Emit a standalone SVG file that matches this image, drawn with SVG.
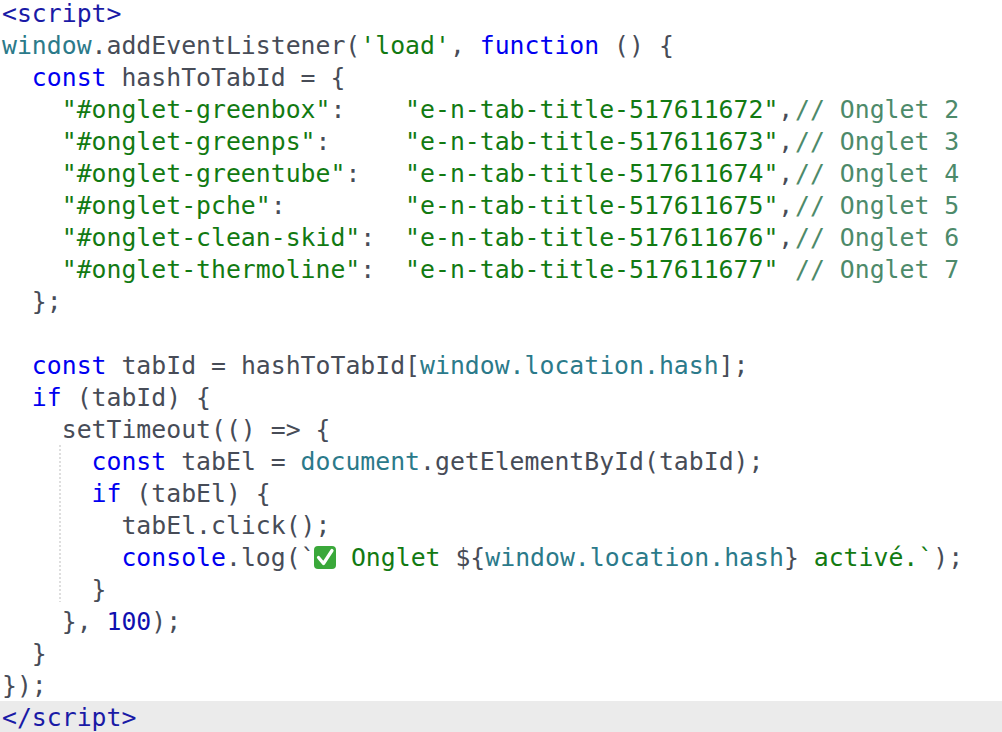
<svg xmlns="http://www.w3.org/2000/svg" width="1002" height="732" viewBox="0 0 1002 732">
<style>
text{font-family:"DejaVu Sans Mono","Liberation Mono",monospace;font-size:24.8px;fill:#474c57;white-space:pre}
.t{fill:#1a1aa6}.k{fill:#0000f0}.s{fill:#127a12}.c{fill:#4d8a6a}.v{fill:#2b7a8a}.n{fill:#1010b0}
</style>
<rect width="1002" height="732" fill="#fff"/>
<rect x="0" y="701" width="1002" height="31" fill="#ebebeb"/>
<line x1="60" y1="445" x2="60" y2="602" stroke="#c8c8c8" stroke-width="1.2" stroke-dasharray="2,2"/>
<g id="code" xml:space="preserve">
<text x="2" y="22"><tspan class="t">&lt;script&gt;</tspan></text>
<text x="2" y="54"><tspan class="v">window</tspan>.addEventListener(<tspan class="s">'load'</tspan>, <tspan class="k">function</tspan> () {</text>
<text x="2" y="86">  <tspan class="k">const</tspan> hashToTabId = {</text>
<text x="2" y="118">    <tspan class="s">"#onglet-greenbox"</tspan>:    <tspan class="s">"e-n-tab-title-517611672"</tspan>,<tspan class="c" x="795">// Onglet 2</tspan></text>
<text x="2" y="150">    <tspan class="s">"#onglet-greenps"</tspan>:     <tspan class="s">"e-n-tab-title-517611673"</tspan>,<tspan class="c" x="795">// Onglet 3</tspan></text>
<text x="2" y="182">    <tspan class="s">"#onglet-greentube"</tspan>:   <tspan class="s">"e-n-tab-title-517611674"</tspan>,<tspan class="c" x="795">// Onglet 4</tspan></text>
<text x="2" y="214">    <tspan class="s">"#onglet-pche"</tspan>:        <tspan class="s">"e-n-tab-title-517611675"</tspan>,<tspan class="c" x="795">// Onglet 5</tspan></text>
<text x="2" y="246">    <tspan class="s">"#onglet-clean-skid"</tspan>:  <tspan class="s">"e-n-tab-title-517611676"</tspan>,<tspan class="c" x="795">// Onglet 6</tspan></text>
<text x="2" y="278">    <tspan class="s">"#onglet-thermoline"</tspan>:  <tspan class="s">"e-n-tab-title-517611677"</tspan><tspan class="c" x="795">// Onglet 7</tspan></text>
<text x="2" y="310">  };</text>
<text x="2" y="374">  <tspan class="k">const</tspan> tabId = hashToTabId[<tspan class="v">window.location.hash</tspan>];</text>
<text x="2" y="406">  <tspan class="k">if</tspan> (tabId) {</text>
<text x="2" y="438">    setTimeout(() =&gt; {</text>
<text x="2" y="470">      <tspan class="k">const</tspan> tabEl = <tspan class="v">document</tspan>.getElementById(tabId);</text>
<text x="2" y="502">      <tspan class="k">if</tspan> (tabEl) {</text>
<text x="2" y="534">        tabEl.click();</text>
<text x="2" y="566">        <tspan class="k">console</tspan>.log(`</text>
<text x="336" y="566" class="s"> Onglet <tspan fill="#474c57">${</tspan><tspan class="v">window.location.hash</tspan><tspan fill="#474c57">}</tspan> activé.`<tspan fill="#474c57">);</tspan></text>
<text x="2" y="598">      }</text>
<text x="2" y="630">    }, <tspan class="n">100</tspan>);</text>
<text x="2" y="662">  }</text>
<text x="2" y="694">});</text>
<text x="2" y="726"><tspan class="t">&lt;/script&gt;</tspan></text>
</g>
<g id="check">
<rect x="314" y="546" width="22" height="23" rx="4" fill="#3aa83a"/>
<path d="M318.5 557.5 L323.5 563.5 L332 550.5" fill="none" stroke="#fff" stroke-width="3.2" stroke-linecap="round" stroke-linejoin="round"/>
</g>
</svg>
